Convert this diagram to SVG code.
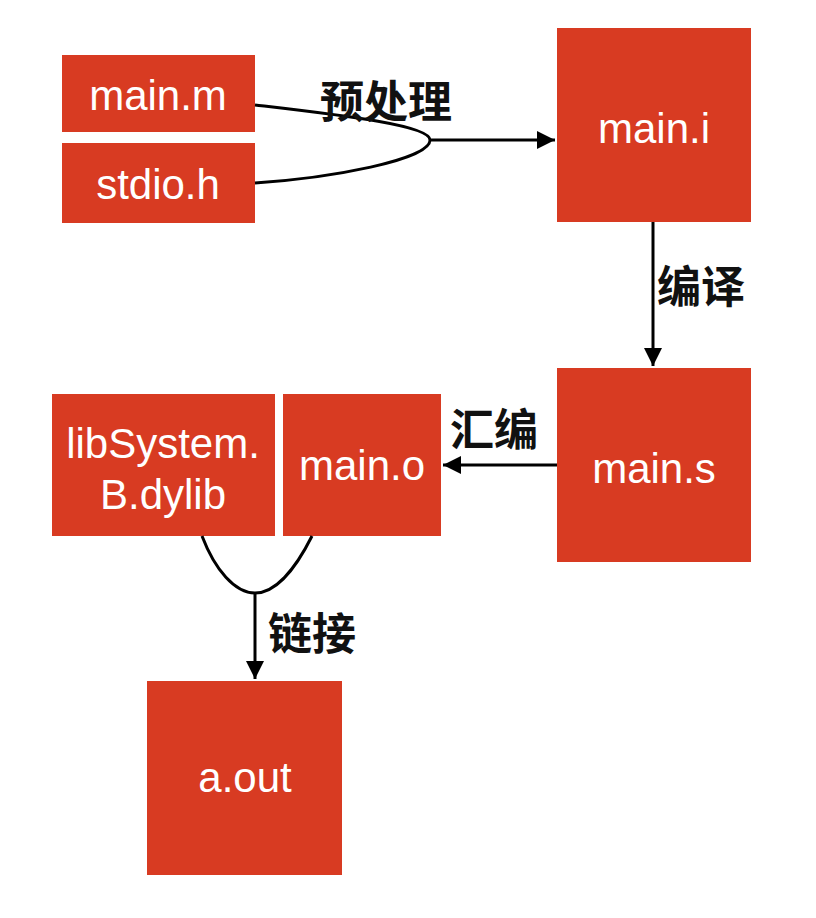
<svg xmlns="http://www.w3.org/2000/svg" width="816" height="918" viewBox="0 0 816 918">
<style>
.box{fill:#D83B22}
.t{fill:#fff;font-family:"Liberation Sans",Arial,sans-serif;font-size:42px;text-anchor:middle;dominant-baseline:central}
.lbl{fill:#111;font-family:"Noto Sans CJK SC",sans-serif;font-size:44px;font-weight:bold;dominant-baseline:central}
.c{fill:none;stroke:#000;stroke-width:3}
</style>
<defs>
<marker id="ah" viewBox="0 0 10 10" refX="10" refY="5" markerWidth="6" markerHeight="6" orient="auto" markerUnits="strokeWidth">
<path d="M0,0 L10,5 L0,10 z" fill="#000"/>
</marker>
</defs>
<rect width="816" height="918" fill="#fff"/>
<g id="main_m"><rect class="box" x="62" y="55" width="193" height="77"/><text class="t" x="158" y="95">main.m</text></g>
<g id="stdio_h"><rect class="box" x="62" y="143" width="193" height="80"/><text class="t" x="158" y="184">stdio.h</text></g>
<g id="main_i"><rect class="box" x="557" y="28" width="194" height="194"/><text class="t" x="654" y="128">main.i</text></g>
<g id="main_s"><rect class="box" x="557" y="368" width="194" height="194"/><text class="t" x="654" y="468">main.s</text></g>
<g id="main_o"><rect class="box" x="283" y="394" width="158" height="142"/><text class="t" x="362" y="465">main.o</text></g>
<g id="libsystem"><rect class="box" x="52" y="394" width="223" height="142"/><text class="t" x="163" y="443">libSystem.</text><text class="t" x="163" y="494">B.dylib</text></g>
<g id="a_out"><rect class="box" x="147" y="681" width="195" height="194"/><text class="t" x="245" y="777">a.out</text></g>
<g id="connectors">
<path class="c" d="M255,105 C340,115 430,125 430,140 C430,160 330,178 255,183"/>
<line class="c" x1="430" y1="140" x2="555" y2="140" marker-end="url(#ah)"/>
<line class="c" x1="653" y1="222" x2="653" y2="366" marker-end="url(#ah)"/>
<line class="c" x1="557" y1="465" x2="443" y2="465" marker-end="url(#ah)"/>
<path class="c" d="M202,536 C215,570 235,593 255,593 C275,593 295,570 312,536"/>
<line class="c" x1="255" y1="593" x2="255" y2="679" marker-end="url(#ah)"/>
</g>
<g id="labels">
<text class="lbl" x="320" y="99">预处理</text>
<text class="lbl" x="657" y="284">编译</text>
<text class="lbl" x="450" y="427">汇编</text>
<text class="lbl" x="268" y="631">链接</text>
</g>
</svg>
